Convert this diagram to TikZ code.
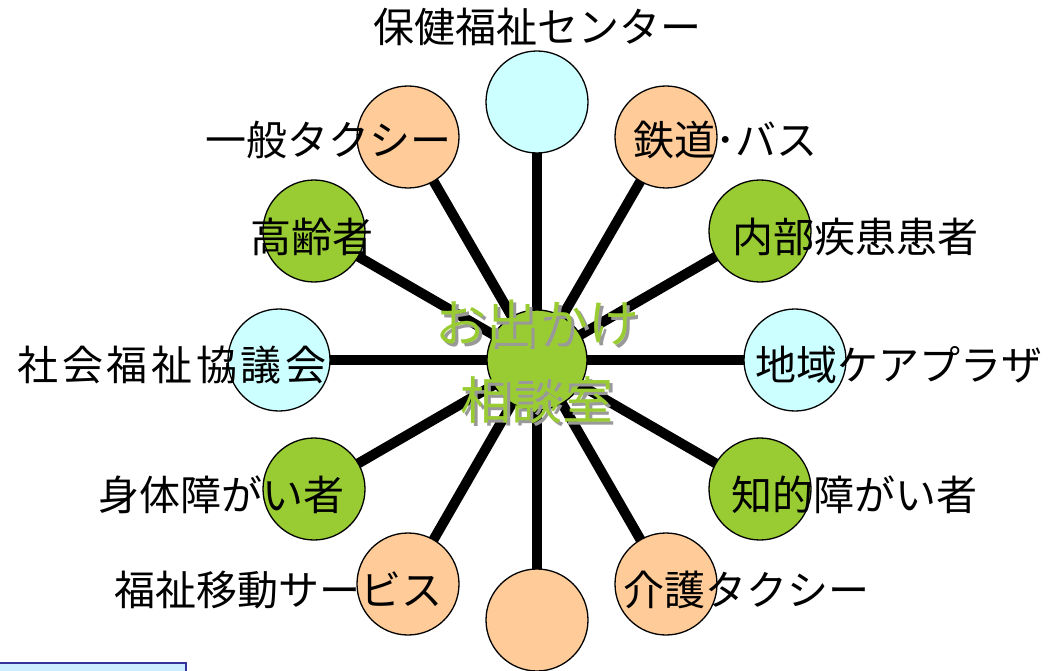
\documentclass[tikz,border=0pt]{standalone}
\usepackage{fontspec}
\setmainfont{Noto Sans CJK JP}
\usetikzlibrary{backgrounds}
\definecolor{corange}{HTML}{FFCC99}
\definecolor{ccyan}{HTML}{CCFFFF}
\definecolor{cgreen}{HTML}{99CC33}
\definecolor{cboxedge}{HTML}{333399}
\definecolor{cboxfill}{HTML}{CCECFF}
\tikzset{
  ball/.style={circle, draw=black, line width=1.3pt, minimum size=102pt, inner sep=0pt},
  hub/.style={circle, draw=black, line width=1.3pt, fill=cgreen, minimum size=100pt, inner sep=0pt},
  spoke/.style={line width=10pt, draw=black},
  lbl/.style={inner sep=0pt, font=\fontsize{41}{46}\selectfont, text=black},
  hubtxt/.style={inner sep=0pt, font=\fontsize{51}{58}\selectfont},
}
\begin{document}
\begin{tikzpicture}[x=1pt,y=-1pt]
\useasboundingbox (0,0) rectangle (1052,671);
\clip (0,0) rectangle (1052,671);
\node[hub] (c) at (537,360) {};
\node[ball, fill=ccyan]   (o90)  at (537,102) {};
\node[ball, fill=corange] (o60)  at (666,137) {};
\node[ball, fill=cgreen]  (o30)  at (760,231) {};
\node[ball, fill=ccyan]   (o0)   at (795,360) {};
\node[ball, fill=cgreen]  (o330) at (760,489) {};
\node[ball, fill=corange] (o300) at (666,584) {};
\node[ball, fill=corange] (o270) at (537,620) {};
\node[ball, fill=corange] (o240) at (408,584) {};
\node[ball, fill=cgreen]  (o210) at (314,489) {};
\node[ball, fill=ccyan]   (o180) at (279,360) {};
\node[ball, fill=cgreen]  (o150) at (314,231) {};
\node[ball, fill=corange] (o120) at (408,137) {};
\begin{pgfonlayer}{background}
\foreach \n in {o90,o60,o30,o0,o330,o300,o270,o240,o210,o180,o150,o120}
  \draw[spoke] (c.center) -- (\n.center);
\end{pgfonlayer}
\node[lbl] (t90)  at (537,27)  {保健福祉センター};
\node[lbl] (t120) at (328,140) {一般タクシー};
\node[lbl, anchor=west] (t60) at (633,140) {鉄道･バス};
\node[lbl] (t150) at (312,237) {高齢者};
\node[lbl] (t30)  at (855,237) {内部疾患患者};
\node[lbl, font=\fontsize{41}{46}\selectfont\addfontfeature{LetterSpace=9}] (t180) at (172,365) {社会福祉協議会};
\node[lbl] (t0)   at (899,365) {地域ケアプラザ};
\node[lbl] (t210) at (221,495) {身体障がい者};
\node[lbl] (t330) at (854,495) {知的障がい者};
\node[lbl] (t240) at (278,590) {福祉移動サービス};
\node[lbl] (t300) at (746,590) {介護タクシー};
\node[hubtxt, text=gray!80] (s1) at (540,326) {お出かけ};
\node[hubtxt, text=gray!80] (s2) at (540,403) {相談室};
\node[hubtxt, text=cgreen] (h1) at (537,323) {お出かけ};
\node[hubtxt, text=cgreen] (h2) at (537,400) {相談室};
\draw[draw=cboxedge, fill=cboxfill, line width=2pt] (-5,663) rectangle (186,700);
\end{tikzpicture}
\end{document}
